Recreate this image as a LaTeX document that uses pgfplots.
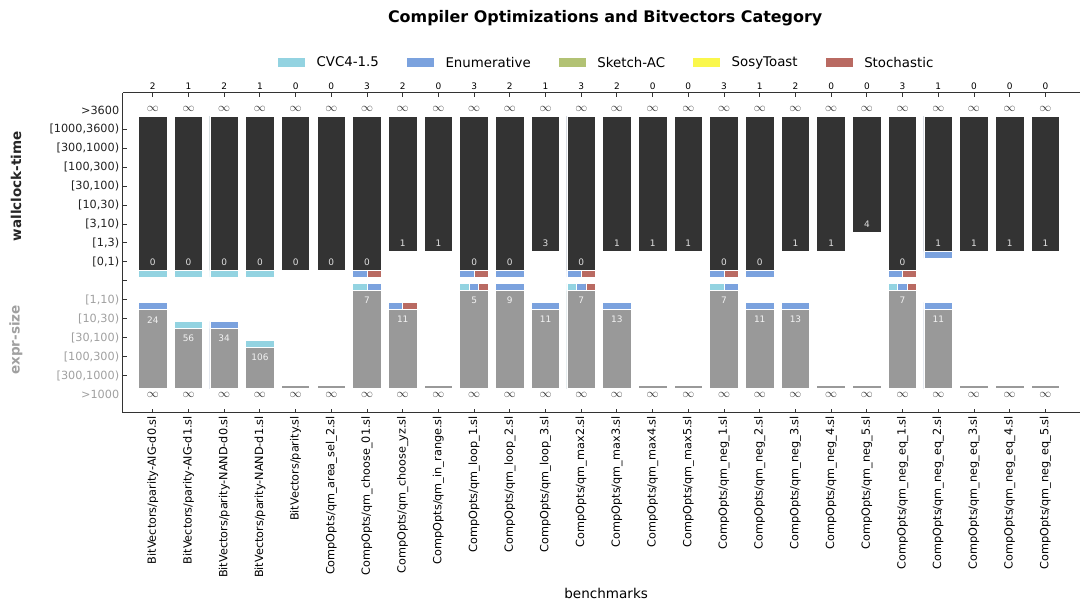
\documentclass[border=0pt]{standalone}
\usepackage{pgfplots}
\pgfplotsset{compat=1.18}
\usepackage{pgfplotstable}
\usepackage{fontspec}
\setmainfont{DejaVu Sans}
\definecolor{cvc}{HTML}{93D3E1}
\definecolor{enum}{HTML}{7BA2DE}
\definecolor{sketch}{HTML}{B2C274}
\definecolor{sosy}{HTML}{FAF74C}
\definecolor{stoch}{HTML}{B96A62}
\definecolor{darkbar}{HTML}{333333}
\definecolor{graybar}{HTML}{999999}
\definecolor{spine}{HTML}{333333}
\definecolor{lowlab}{HTML}{A0A0A0}
\definecolor{uplab}{HTML}{222222}

% wallclock-time bin (8=[0,1), 9=[1,3), 10=[3,10)) and value
\pgfplotstableread{
x tbin tval
0 8 0
1 8 0
2 8 0
3 8 0
4 8 0
5 8 0
6 8 0
7 9 1
8 9 1
9 8 0
10 8 0
11 9 3
12 8 0
13 9 1
14 9 1
15 9 1
16 8 0
17 8 0
18 9 1
19 9 1
20 10 4
21 8 0
22 9 1
23 9 1
24 9 1
25 9 1
}\timedata

% expr-size bin (6=[1,10), 5=[10,30), 4=[30,100), 3=[100,300), 1=>1000)
\pgfplotstableread{
x sbin
0 5
1 4
2 4
3 3
4 1
5 1
6 6
7 5
8 1
9 6
10 6
11 5
12 6
13 5
14 1
15 1
16 6
17 5
18 5
19 1
20 1
21 6
22 5
23 1
24 1
25 1
}\sizebins

\pgfplotstableread{
x sbin sval
0 5 24
1 4 56
2 4 34
3 3 106
6 6 7
7 5 11
9 6 5
10 6 9
11 5 11
12 6 7
13 5 13
16 6 7
17 5 11
18 5 13
21 6 7
22 5 11
}\sizevals

% best-solver strips, time part
\pgfplotstableread{
x b
0 8
1 8
2 8
3 8
}\uCvcFull
\pgfplotstableread{
x b
10 8
17 8
22 9
}\uEnumFull
\pgfplotstableread{
x b
6 8
9 8
12 8
16 8
21 8
}\uEnumStoch

% best-solver strips, size part
\pgfplotstableread{
x b
1 4
3 3
}\lCvcFull
\pgfplotstableread{
x b
0 5
2 4
10 6
11 5
13 5
17 5
18 5
22 5
}\lEnumFull
\pgfplotstableread{
x b
6 6
16 6
}\lCvcEnum
\pgfplotstableread{
x b
7 5
}\lEnumStoch
\pgfplotstableread{
x b
9 6
12 6
21 6
}\lThird

\pgfplotsset{
  base/.style={width=957.3bp, height=320bp, scale only axis,
    xmin=-0.843, xmax=25.97, clip=false},
  bar/.style={ybar, bar width=#1, draw=white, line width=0.8bp, forget plot},
  lbl/.style={forget plot, draw=none, mark=none,
    nodes near coords, nodes near coords align=center, point meta=explicit symbolic,
    every node near coord/.append style={font=\fontsize{9}{10}\selectfont, inner sep=0pt}},
}

\begin{document}
\begin{tikzpicture}
\useasboundingbox (-122.7bp,-190.3bp) rectangle (958.3bp,412.7bp);

% ---- upper part: wallclock-time bars hanging from the top (y = u - 15.7)
\begin{axis}[base, ymin=-15.66, ymax=1.23,
  axis x line*=top, axis y line=none, tick align=inside,
  xtick={0,...,25},
  xticklabels={2,1,2,1,0,0,3,2,0,3,2,1,3,2,0,0,3,1,2,0,0,3,1,0,0,0},
  xticklabel style={font=\fontsize{9}{10}\selectfont, text=black},
  axis line style={draw=spine, line width=1.1bp},
  major tick style={draw=spine, line width=0.9bp}, major tick length=4bp]
\addplot[bar=0.8, bar shift=0, fill=cvc] table[x=x, y expr=\thisrow{b}-0.8-15.7] {\uCvcFull};
\addplot[bar=0.8, bar shift=0, fill=enum] table[x=x, y expr=\thisrow{b}-0.8-15.7] {\uEnumFull};
\addplot[bar=0.4, bar shift=-0.2, fill=enum] table[x=x, y expr=\thisrow{b}-0.8-15.7] {\uEnumStoch};
\addplot[bar=0.4, bar shift=0.2, fill=stoch] table[x=x, y expr=\thisrow{b}-0.8-15.7] {\uEnumStoch};
\addplot[bar=0.8, bar shift=0, fill=darkbar] table[x=x, y expr=\thisrow{tbin}-0.45-15.7] {\timedata};
\end{axis}

% ---- lower part: expr-size bars rising from the bottom (y = u - 1.3)
\begin{axis}[base, ymin=-1.26, ymax=15.63, hide axis]
\addplot[bar=0.8, bar shift=0, fill=cvc] table[x=x, y expr=\thisrow{b}+0.86-1.3] {\lCvcFull};
\addplot[bar=0.8, bar shift=0, fill=enum] table[x=x, y expr=\thisrow{b}+0.86-1.3] {\lEnumFull};
\addplot[bar=0.4, bar shift=-0.2, fill=cvc] table[x=x, y expr=\thisrow{b}+0.86-1.3] {\lCvcEnum};
\addplot[bar=0.4, bar shift=0.2, fill=enum] table[x=x, y expr=\thisrow{b}+0.86-1.3] {\lCvcEnum};
\addplot[bar=0.4, bar shift=-0.2, fill=enum] table[x=x, y expr=\thisrow{b}+0.86-1.3] {\lEnumStoch};
\addplot[bar=0.4, bar shift=0.2, fill=stoch] table[x=x, y expr=\thisrow{b}+0.86-1.3] {\lEnumStoch};
\addplot[bar=0.2667, bar shift=-0.2667, fill=cvc] table[x=x, y expr=\thisrow{b}+0.86-1.3] {\lThird};
\addplot[bar=0.2667, bar shift=0, fill=enum] table[x=x, y expr=\thisrow{b}+0.86-1.3] {\lThird};
\addplot[bar=0.2667, bar shift=0.2667, fill=stoch] table[x=x, y expr=\thisrow{b}+0.86-1.3] {\lThird};
\addplot[bar=0.8, bar shift=0, fill=graybar] table[x=x, y expr=\thisrow{sbin}+0.48-1.3] {\sizebins};
\end{axis}

% ---- main frame, labels, legend
\begin{axis}[base, ymin=0.04, ymax=16.93,
  axis x line*=bottom, axis y line*=left, tick align=inside,
  axis line style={draw=spine, line width=1.1bp},
  major tick style={draw=spine, line width=0.9bp}, major tick length=4bp,
  tick label style={font=\fontsize{11.3}{13.5}\selectfont},
  xtick={0,...,25},
  xticklabels={BitVectors/parity-AIG-d0.sl, BitVectors/parity-AIG-d1.sl,
    BitVectors/parity-NAND-d0.sl, BitVectors/parity-NAND-d1.sl, BitVectors/parity.sl,
    CompOpts/qm\_area\_sel\_2.sl, CompOpts/qm\_choose\_01.sl, CompOpts/qm\_choose\_yz.sl,
    CompOpts/qm\_in\_range.sl, CompOpts/qm\_loop\_1.sl, CompOpts/qm\_loop\_2.sl,
    CompOpts/qm\_loop\_3.sl, CompOpts/qm\_max2.sl, CompOpts/qm\_max3.sl,
    CompOpts/qm\_max4.sl, CompOpts/qm\_max5.sl, CompOpts/qm\_neg\_1.sl,
    CompOpts/qm\_neg\_2.sl, CompOpts/qm\_neg\_3.sl, CompOpts/qm\_neg\_4.sl,
    CompOpts/qm\_neg\_5.sl, CompOpts/qm\_neg\_eq\_1.sl, CompOpts/qm\_neg\_eq\_2.sl,
    CompOpts/qm\_neg\_eq\_3.sl, CompOpts/qm\_neg\_eq\_4.sl, CompOpts/qm\_neg\_eq\_5.sl},
  xticklabel style={rotate=90, anchor=east, text=black},
  ytick={2,...,15},
  yticklabels={\textcolor{lowlab}{[300,1000)}, \textcolor{lowlab}{[100,300)},
    \textcolor{lowlab}{[30,100)}, \textcolor{lowlab}{[10,30)}, \textcolor{lowlab}{[1,10)}, {},
    \textcolor{uplab}{[0,1)}, \textcolor{uplab}{[1,3)}, \textcolor{uplab}{[3,10)},
    \textcolor{uplab}{[10,30)}, \textcolor{uplab}{[30,100)}, \textcolor{uplab}{[100,300)},
    \textcolor{uplab}{[300,1000)}, \textcolor{uplab}{[1000,3600)}},
  extra y ticks={1,16},
  extra y tick labels={\textcolor{lowlab}{>1000}, \textcolor{uplab}{>3600}},
  extra y tick style={major tick style={draw=none}},
  xlabel={benchmarks},
  xlabel style={at={(0.505,0)}, anchor=center, yshift=-180.3bp,
    font=\fontsize{13.6}{16}\selectfont},
  title={Compiler Optimizations and Bitvectors Category},
  title style={at={(0.504,1)}, anchor=center, yshift=69bp,
    font=\bfseries\fontsize{16}{19}\selectfont},
  legend columns=5,
  legend image code/.code={\draw[#1, draw=white, line width=0.6bp] (0bp,-5bp) rectangle (28bp,5bp);},
  legend style={draw=none, fill=none, at={(0.504,1)}, anchor=center, yshift=30bp,
    font=\fontsize{13.4}{16}\selectfont, nodes={inner sep=0pt},
    /tikz/every odd column/.append style={column sep=11bp},
    /tikz/every even column/.append style={column sep=27bp}},
]
\addlegendimage{fill=cvc}\addlegendentry{CVC4-1.5}
\addlegendimage{fill=enum}\addlegendentry{Enumerative}
\addlegendimage{fill=sketch}\addlegendentry{Sketch-AC}
\addlegendimage{fill=sosy}\addlegendentry{SosyToast}
\addlegendimage{fill=stoch}\addlegendentry{Stochastic}

% infinity markers
\addplot[lbl, nodes near coords={$\infty$}, every node near coord/.append style={text=black!80, font=\fontsize{12.5}{14}\selectfont}]
  table[x=x, y expr=16.05, meta=tval] {\timedata};
\addplot[lbl, nodes near coords={$\infty$}, every node near coord/.append style={text=black!80, font=\fontsize{12.5}{14}\selectfont}]
  table[x=x, y expr=0.97, meta=sbin] {\sizebins};
% values inside bars
\addplot[lbl, every node near coord/.append style={text=white!88!black}]
  table[x=x, y=tbin, meta=tval] {\timedata};
\addplot[lbl, every node near coord/.append style={text=white!95!black}]
  table[x=x, y expr=\thisrow{sbin}-0.05, meta=sval] {\sizevals};

\node[rotate=90, font=\bfseries\fontsize{13.6}{16}\selectfont, text=black!85]
  at ([xshift=-106.7bp]axis cs:-0.843,12) {wallclock-time};
\node[rotate=90, font=\bfseries\fontsize{13.6}{16}\selectfont, text=lowlab]
  at ([xshift=-106.7bp]axis cs:-0.843,3.88) {expr-size};
\end{axis}
\end{tikzpicture}
\end{document}
